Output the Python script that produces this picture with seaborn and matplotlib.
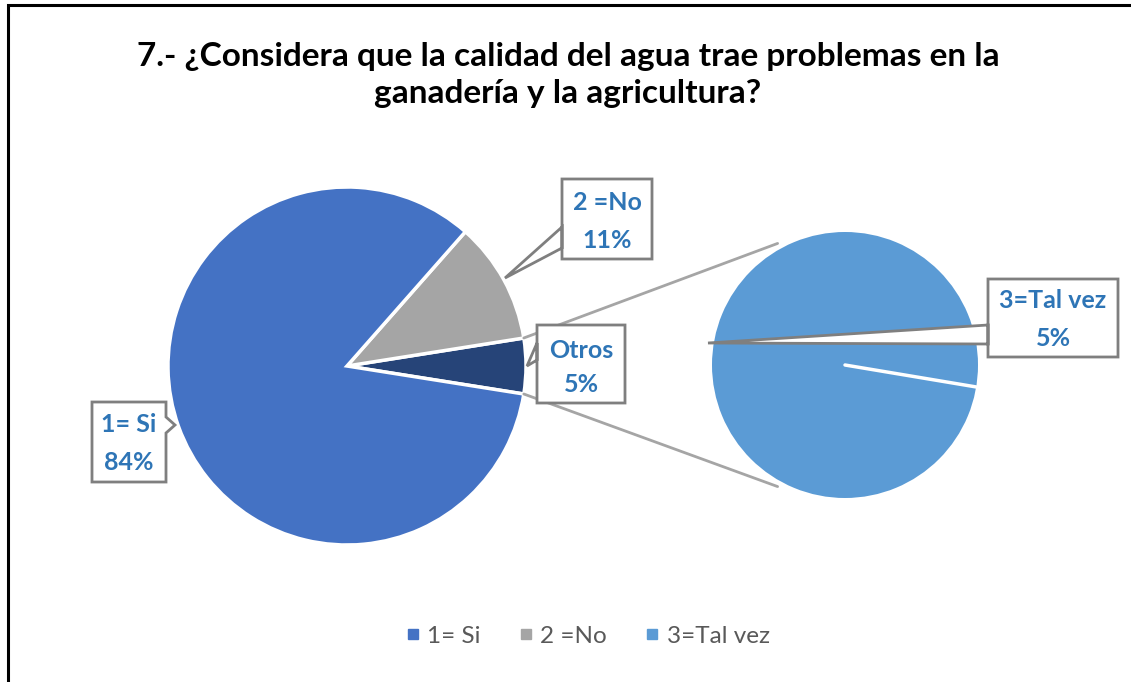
import numpy as np
import matplotlib
matplotlib.use("Agg")
import matplotlib.pyplot as plt
from matplotlib.patches import Polygon, Rectangle
from matplotlib.lines import Line2D
import seaborn as sns

# ---- data -------------------------------------------------------------
main_labels = ["1= Si", "2 =No", "Otros"]
main_values = [84, 11, 5]
sub_labels = ["3=Tal vez"]
sub_values = [5]
legend_labels = ["1= Si", "2 =No", "3=Tal vez"]

title = "7.- ¿Considera que la calidad del agua trae problemas en la\nganadería y la agricultura?"

# ---- style ------------------------------------------------------------
sns.set_theme(style="white")
plt.rcParams["font.family"] = ["Lato", "DejaVu Sans"]

palette = {"1= Si": "#4472C4", "2 =No": "#A5A5A5", "Otros": "#264478",
           "3=Tal vez": "#5B9BD5"}
label_color = "#2E75B6"
box_edge = "#7F7F7F"

W, H = 1131, 682
fig = plt.figure(figsize=(W / 100, H / 100), dpi=100)
ax = fig.add_axes([0, 0, 1, 1])
ax.set_xlim(0, W)
ax.set_ylim(0, H)
ax.set_aspect("equal")
ax.axis("off")


def Y(y):
    """Flip a top-down pixel row into the axis' bottom-up coordinate."""
    return H - y


# chart frame
ax.add_patch(Rectangle((8, Y(1200)), 1300, 1200 - 5, fill=False,
                       edgecolor="black", linewidth=2.2, zorder=0))

# ---- main pie (drawn counter-clockwise starting with "Otros") --------
main_center = (347, Y(366))
main_r = 179
order = [2, 1, 0]
otros_span = 360 * main_values[2] / sum(main_values)
start = -otros_span / 2
ax.pie([main_values[i] for i in order],
       colors=[palette[main_labels[i]] for i in order],
       startangle=start, center=main_center, radius=main_r,
       wedgeprops=dict(edgecolor="white", linewidth=2.5), frame=True)

# ---- secondary pie ----------------------------------------------------
sub_center = (845, Y(365))
sub_r = 133
sub_start = -9.5
ax.pie(sub_values, colors=[palette["3=Tal vez"]], startangle=sub_start,
       center=sub_center, radius=sub_r,
       wedgeprops=dict(edgecolor="none", linewidth=0), frame=True)
# slice boundary of the single wedge
a = np.deg2rad(sub_start)
ax.plot([sub_center[0], sub_center[0] + sub_r * np.cos(a)],
        [sub_center[1], sub_center[1] + sub_r * np.sin(a)],
        color="white", linewidth=2.5, solid_capstyle="round", zorder=3)

# ---- connector lines between the "Otros" slice and the secondary pie --
for sgn in (1, -1):
    a0 = np.deg2rad(sgn * otros_span / 2)
    a1 = np.deg2rad(sgn * 119)
    p0 = (main_center[0] + main_r * np.cos(a0), main_center[1] + main_r * np.sin(a0))
    p1 = (sub_center[0] + 139 * np.cos(a1), sub_center[1] + 139 * np.sin(a1))
    ax.plot([p0[0], p1[0]], [p0[1], p1[1]], color="#A5A5A5", linewidth=2, zorder=1)


# ---- callout labels ---------------------------------------------------
def callout(box, pointer, side, text, lines_y):
    x0, y0, x1, y1 = box
    (pa, tip, pb) = pointer
    if side == "left":
        pts = [(x0, y0), (x1, y0), (x1, y1), (x0, y1), (x0, pb), tip, (x0, pa)]
    else:
        pts = [(x0, y0), (x1, y0), (x1, pa), tip, (x1, pb), (x1, y1), (x0, y1)]
    ax.add_patch(Polygon([(px, Y(py)) for px, py in pts], closed=True,
                         facecolor="white", edgecolor=box_edge, linewidth=2,
                         joinstyle="miter", zorder=5))
    cx = (x0 + x1) / 2
    for t, ly in zip(text, lines_y):
        ax.text(cx, Y(ly), t, ha="center", va="center", fontsize=18,
                fontweight="bold", color=label_color, zorder=6)


total = sum(main_values)
pct = {lab: round(100 * v / total) for lab, v in zip(main_labels, main_values)}
pct["3=Tal vez"] = round(100 * sub_values[0] / total)

callout((562, 179, 652, 259), (248, (505, 278), 227), "left",
        ["2 =No", f"{pct['2 =No']}%"], [203, 240])
callout((537, 325, 625, 403), (360, (527, 366), 343), "left",
        ["Otros", f"{pct['Otros']}%"], [351, 384])
callout((92, 402, 166, 482), (417, (175, 425), 433), "right",
        ["1= Si", f"{pct['1= Si']}%"], [425, 463])
callout((988, 279, 1118, 357), (344, (708, 343), 325), "left",
        ["3=Tal vez", f"{pct['3=Tal vez']}%"], [300, 338])

# ---- title ------------------------------------------------------------
fig.text(568 / W, 1 - 75 / H, title, ha="center", va="center", fontsize=24,
         fontweight="bold", color="black", linespacing=1.36)

# ---- legend -----------------------------------------------------------
handles = [Line2D([], [], marker="s", linestyle="none", markersize=6.5,
                  color=palette[lab]) for lab in legend_labels]
fig.legend(handles, legend_labels, loc="center",
           bbox_to_anchor=(587 / W, 1 - 636 / H), ncol=3, frameon=False,
           fontsize=17.5, labelcolor="#595959", handletextpad=0.25,
           columnspacing=1.5, handlelength=0.7)

fig.savefig("out.png", dpi=100)
